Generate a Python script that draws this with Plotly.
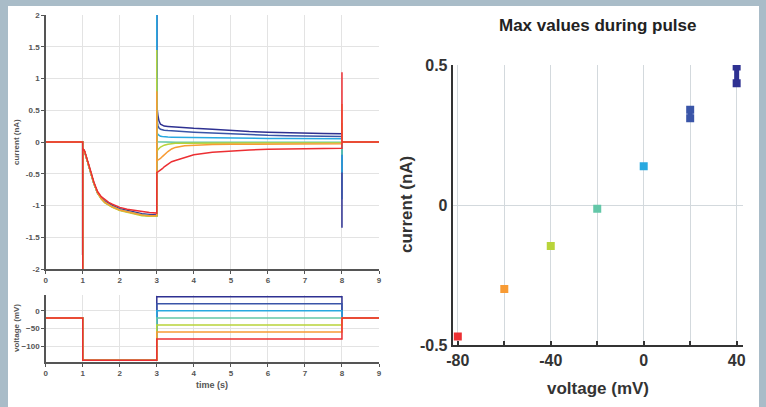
import plotly.graph_objects as go

# ---------------- data ----------------
pulse_mV = [40, 20, 0, -20, -40, -60, -80]
colors = ["#2e3192", "#3a55a8", "#29a9e0", "#63c7a8", "#b9d43a", "#f89b34", "#ec2f33"]
holding_mV = -20
prepulse_mV = -140
step_times = [0, 1, 1, 3, 3, 8, 8, 9]

t = [0, 0.999, 1.0, 1.001, 1.05, 1.1, 1.2, 1.3, 1.4, 1.5, 1.6, 1.7, 1.8, 2.0, 2.2, 2.4, 2.6,
     2.8, 2.999, 3.0, 3.001, 3.03, 3.06, 3.1, 3.15, 3.2, 3.3, 3.4, 3.5, 3.75, 4.0, 4.5, 5.0,
     5.5, 6.0, 6.5, 7.0, 7.5, 7.999, 8.0, 8.001, 9.0]

i_40 = [0, 0, -2.5, -0.1, -0.15, -0.25, -0.45, -0.65, -0.8, -0.88, -0.93, -0.97, -1.0, -1.05, -1.08, -1.11, -1.13,
        -1.14, -1.15, 2.5, 0.57, 0.42, 0.33, 0.28, 0.26, 0.25, 0.245, 0.24, 0.235, 0.225, 0.215, 0.2, 0.18,
        0.165, 0.155, 0.145, 0.14, 0.135, 0.13, -1.35, 0, 0]
i_20 = [0, 0, -2.5, -0.1, -0.15, -0.25, -0.45, -0.65, -0.8, -0.88, -0.94, -0.98, -1.01, -1.06, -1.09, -1.12, -1.14,
        -1.15, -1.16, 2.5, 0.36, 0.26, 0.22, 0.2, 0.19, 0.185, 0.18, 0.175, 0.17, 0.16, 0.155, 0.14, 0.125,
        0.115, 0.105, 0.1, 0.095, 0.09, 0.085, -0.9, 0, 0]
i_0 = [0, 0, -2.5, -0.1, -0.15, -0.25, -0.45, -0.65, -0.8, -0.89, -0.95, -0.99, -1.02, -1.07, -1.1, -1.13, -1.15,
       -1.16, -1.16, 2.5, 0.15, 0.12, 0.1, 0.09, 0.085, 0.08, 0.078, 0.076, 0.075, 0.072, 0.07, 0.066, 0.062,
       0.059, 0.057, 0.055, 0.053, 0.051, 0.05, -0.48, 0, 0]
i_m20 = [0, 0, -2.5, -0.1, -0.15, -0.25, -0.45, -0.65, -0.8, -0.89, -0.95, -0.99, -1.02, -1.07, -1.1, -1.13, -1.15,
         -1.16, -1.17, 1.0, 0.005, 0.003, 0.002, 0.0, 0.0, 0.0, -0.002, -0.003, -0.003, -0.004, -0.004, -0.004, -0.004,
         -0.004, -0.004, -0.004, -0.004, -0.004, -0.004, -0.2, 0, 0]
i_m40 = [0, 0, -2.5, -0.1, -0.15, -0.25, -0.45, -0.65, -0.8, -0.9, -0.96, -1.0, -1.03, -1.08, -1.11, -1.14, -1.16,
         -1.17, -1.17, 1.45, -0.15, -0.12, -0.1, -0.08, -0.065, -0.05, -0.035, -0.025, -0.02, -0.018, -0.017, -0.016, -0.015,
         -0.014, -0.014, -0.013, -0.013, -0.012, -0.012, 0.3, 0, 0]
i_m60 = [0, 0, -2.5, -0.1, -0.15, -0.25, -0.45, -0.65, -0.8, -0.89, -0.95, -0.99, -1.02, -1.07, -1.1, -1.13, -1.15,
         -1.16, -1.16, 0.8, -0.29, -0.285, -0.275, -0.26, -0.23, -0.2, -0.15, -0.11, -0.085, -0.06, -0.05, -0.04, -0.036,
         -0.033, -0.031, -0.03, -0.029, -0.028, -0.027, 0.6, 0, 0]
i_m80 = [0, 0, -2.5, -0.1, -0.14, -0.23, -0.43, -0.63, -0.78, -0.86, -0.91, -0.95, -0.98, -1.03, -1.06, -1.08, -1.1,
         -1.11, -1.12, -0.48, -0.48, -0.47, -0.46, -0.44, -0.42, -0.39, -0.35, -0.31, -0.29, -0.24, -0.2, -0.16, -0.14,
         -0.125, -0.115, -0.11, -0.105, -0.1, -0.1, 1.1, 0, 0]
currents = [i_40, i_20, i_0, i_m20, i_m40, i_m60, i_m80]

max_I = [[0.495, 0.435], [0.34, 0.31], [0.138], [-0.013], [-0.146], [-0.3], [-0.47]]

left_yticks = [-2, -1.5, -1, -0.5, 0, 0.5, 1, 1.5, 2]
left_xticks = list(range(0, 10))
volt_yticks = [-100, -50, 0]
iv_xticks = [-80, -60, -40, -20, 0, 20, 40]
iv_xticktext = ["-80", "", "-40", "", "0", "", "40"]
iv_yticks = [-0.5, 0, 0.5]
iv_yticktext = ["-0.5", "0", "0.5"]

# ---------------- figure ----------------
W, H = 766, 407
def px(x): return x / W
def py(y): return 1 - y / H

fig = go.Figure()

for I, c in zip(currents, colors):
    fig.add_trace(go.Scatter(x=t, y=I, mode="lines", line=dict(color=c, width=1.5),
                             xaxis="x", yaxis="y", showlegend=False, hoverinfo="skip"))

for V, c in zip(pulse_mV, colors):
    vy = [holding_mV, holding_mV, prepulse_mV, prepulse_mV, V, V, holding_mV, holding_mV]
    fig.add_trace(go.Scatter(x=step_times, y=vy, mode="lines", line=dict(color=c, width=1.5),
                             xaxis="x2", yaxis="y2", showlegend=False, hoverinfo="skip"))

for V, vals, c in zip(pulse_mV, max_I, colors):
    fig.add_trace(go.Scatter(x=[V] * len(vals), y=vals, mode="lines+markers",
                             line=dict(color=c, width=5),
                             marker=dict(symbol="square", size=8, color=c),
                             xaxis="x3", yaxis="y3", showlegend=False, hoverinfo="skip"))

small = dict(family="Liberation Sans, Arial", size=8, color="#555555", weight="bold")
big = dict(family="Liberation Sans, Arial", size=16, color="#333333", weight="bold")
grid = "#e3e3e3"
axcol = "#555555"

common_left = dict(showgrid=True, gridcolor=grid, gridwidth=1, zeroline=False, automargin=False,
                   showline=True, linecolor=axcol, linewidth=1.5,
                   ticks="outside", ticklen=3, tickcolor=axcol, tickfont=small)

fig.update_layout(
    width=W, height=H, autosize=False,
    margin=dict(l=0, r=0, t=0, b=0, pad=0, autoexpand=False),
    paper_bgcolor="#a9bcc8",
    plot_bgcolor="rgba(0,0,0,0)",
    xaxis=dict(domain=[px(45.7), px(379)], anchor="y", range=[0, 9],
               tickvals=left_xticks, **common_left),
    yaxis=dict(domain=[py(269), py(15)], anchor="x", range=[-2, 2],
               tickvals=left_yticks, ticktext=[f"{v:g}" for v in left_yticks], **common_left),
    xaxis2=dict(domain=[px(45.7), px(379)], anchor="y2", range=[0, 9],
                tickvals=left_xticks, **common_left),
    yaxis2=dict(domain=[py(362), py(295)], anchor="x2", range=[-145, 45],
                tickvals=volt_yticks, **common_left),
    xaxis3=dict(domain=[px(452.7), px(742.7)], anchor="y3", range=[-82.2, 42.6],
                tickvals=iv_xticks, ticktext=iv_xticktext, automargin=False,
                showgrid=True, gridcolor="#d3d9dd", zeroline=False,
                showline=True, linecolor="#333333", linewidth=2,
                ticks="inside", ticklen=4, tickwidth=2, tickcolor="#333333", tickfont=big),
    yaxis3=dict(domain=[py(345), py(65)], anchor="x3", range=[-0.5, 0.5],
                tickvals=iv_yticks, ticktext=iv_yticktext, automargin=False,
                showgrid=True, gridcolor="#d3d9dd", zeroline=False,
                showline=True, linecolor="#333333", linewidth=2,
                ticks="", tickfont=big),
    shapes=[dict(type="rect", xref="paper", yref="paper", x0=px(8), x1=px(759),
                 y0=0, y1=py(6), fillcolor="white", line=dict(width=0), layer="below")],
    annotations=[
        dict(text="current (nA)", x=px(16), y=py(142), xref="paper", yref="paper",
             textangle=-90, showarrow=False, font=small, xanchor="center", yanchor="middle"),
        dict(text="voltage (mV)", x=px(16), y=py(328), xref="paper", yref="paper",
             textangle=-90, showarrow=False, font=small, xanchor="center", yanchor="middle"),
        dict(text="time (s)", x=px(212), y=py(385), xref="paper", yref="paper",
             showarrow=False, font=dict(small, size=9), xanchor="center", yanchor="middle"),
        dict(text="Max values during pulse", x=px(597.7), y=py(26), xref="paper", yref="paper",
             showarrow=False, font=dict(big, size=17, color="#222222"), xanchor="center", yanchor="middle"),
        dict(text="current (nA)", x=px(406), y=py(205), xref="paper", yref="paper",
             textangle=-90, showarrow=False, font=dict(big, size=17), xanchor="center", yanchor="middle"),
        dict(text="voltage (mV)", x=px(597.7), y=py(388), xref="paper", yref="paper",
             showarrow=False, font=dict(big, size=17), xanchor="center", yanchor="middle"),
    ],
)

fig.write_html("out.html", config={"displayModeBar": False, "staticPlot": True},
               post_script="document.body.style.margin='0';document.body.style.padding='0';"
                           "document.body.style.overflow='hidden';")
